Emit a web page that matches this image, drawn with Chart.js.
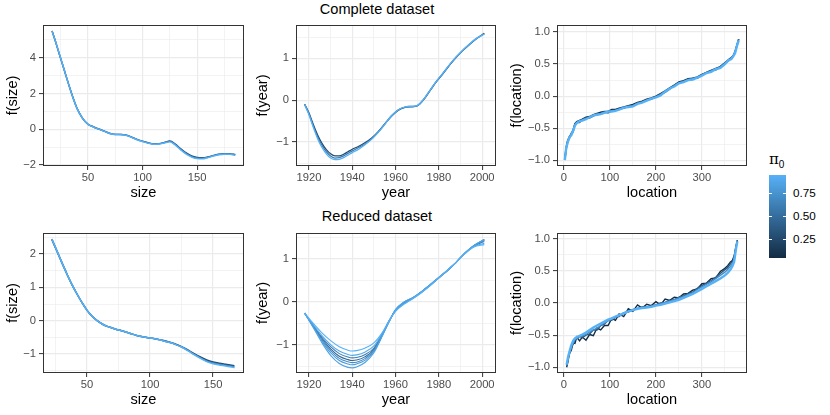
<!DOCTYPE html>
<html>
<head>
<meta charset="utf-8">
<script src="https://cdn.jsdelivr.net/npm/chart.js@4.4.1/dist/chart.umd.min.js"></script>
<style>
  body { margin: 0; background: #fff; }
  #wrap { position: relative; width: 830px; height: 415px; overflow: hidden; font-family: 'Liberation Sans', Arial, sans-serif; }
  canvas { position: absolute; }
  .ttl { position: absolute; width: 300px; text-align: center; font-size: 14.6px; color: #000; line-height: 18px; }
  .lab { position: absolute; font-size: 11.7px; color: #000; line-height: 14px; }
  #bar { position: absolute; left: 769px; top: 175px; width: 17px; height: 83px;
         background: linear-gradient(to bottom, #56B1F7, #336A98 52%, #132B43); }
  .tk { position: absolute; height: 1px; width: 3px; background: #fff; }
</style>
</head>
<body>
<div id="wrap">
  <div class="ttl" style="left:227px; top:0px;">Complete dataset</div>
  <div class="ttl" style="left:227px; top:207px;">Reduced dataset</div>

  <canvas id="c1" width="248" height="189" style="left:0px; top:15px;"></canvas>
  <canvas id="c2" width="250" height="189" style="left:250px; top:15px;"></canvas>
  <canvas id="c3" width="247" height="189" style="left:504px; top:15px;"></canvas>
  <canvas id="c4" width="248" height="188" style="left:0px; top:223px;"></canvas>
  <canvas id="c5" width="250" height="188" style="left:250px; top:223px;"></canvas>
  <canvas id="c6" width="247" height="188" style="left:504px; top:223px;"></canvas>

  <div class="lab" style="left:769px; top:152px; font-size:15px; font-family:'DejaVu Serif', serif;">π<sub style="font-size:10px; font-family:'Liberation Sans', Arial, sans-serif;">0</sub></div>
  <div id="bar"></div>
  <div class="tk" style="left:769px; top:193px;"></div><div class="tk" style="left:783px; top:193px;"></div>
  <div class="tk" style="left:769px; top:216px;"></div><div class="tk" style="left:783px; top:216px;"></div>
  <div class="tk" style="left:769px; top:239px;"></div><div class="tk" style="left:783px; top:239px;"></div>
  <div class="lab" style="left:793px; top:186px;">0.75</div>
  <div class="lab" style="left:793px; top:209px;">0.50</div>
  <div class="lab" style="left:793px; top:232px;">0.25</div>
</div>

<script>
// pi0 values of the fitted curves
var pi0Smooth = [0.25, 0.6, 0.95];
var pi0YearRed = [0.95, 0.9, 0.6, 0.45, 0.7, 0.8, 0.85];
var pi0LocFull = [0.1, 0.5, 0.95];
var pi0LocRed = [0.05, 0.35, 0.7, 0.95];

// complete dataset, f(size)
var sizeFullX = [17, 20, 24, 28, 32, 36, 40, 45, 50, 55, 60, 65, 70, 75, 80, 85, 90, 95, 100, 105, 110, 115, 120, 125, 130, 135, 140, 145, 150, 155, 160, 165, 170, 175, 180, 185];
var sizeFullY = [
  [5.50, 4.93, 4.13, 3.34, 2.55, 1.80, 1.16, 0.61, 0.28, 0.13, 0.01, -0.11, -0.23, -0.29, -0.29, -0.33, -0.44, -0.57, -0.67, -0.76, -0.82, -0.81, -0.74, -0.66, -0.83, -1.10, -1.33, -1.50, -1.58, -1.60, -1.55, -1.47, -1.40, -1.37, -1.38, -1.42],
  [5.49, 4.94, 4.14, 3.35, 2.55, 1.80, 1.15, 0.60, 0.27, 0.12, 0.00, -0.12, -0.24, -0.30, -0.30, -0.34, -0.45, -0.58, -0.68, -0.77, -0.83, -0.82, -0.75, -0.68, -0.86, -1.13, -1.36, -1.53, -1.61, -1.63, -1.57, -1.48, -1.41, -1.38, -1.39, -1.43],
  [5.48, 4.95, 4.15, 3.35, 2.55, 1.80, 1.15, 0.60, 0.27, 0.12, 0.00, -0.12, -0.24, -0.30, -0.31, -0.35, -0.46, -0.59, -0.69, -0.78, -0.84, -0.83, -0.77, -0.71, -0.89, -1.16, -1.40, -1.56, -1.65, -1.66, -1.59, -1.50, -1.43, -1.40, -1.41, -1.45]
];

// complete dataset, f(year)
var yearFullX = [1918, 1920, 1922, 1924, 1926, 1928, 1930, 1932, 1934, 1936, 1938, 1940, 1943, 1946, 1949, 1952, 1955, 1958, 1961, 1964, 1967, 1970, 1973, 1976, 1979, 1982, 1985, 1988, 1991, 1994, 1997, 2001];
var yearFullY = [
  [-0.10, -0.31, -0.58, -0.83, -1.03, -1.18, -1.28, -1.33, -1.33, -1.29, -1.23, -1.17, -1.10, -1.01, -0.90, -0.75, -0.57, -0.39, -0.25, -0.18, -0.16, -0.14, 0.01, 0.23, 0.45, 0.64, 0.84, 1.02, 1.18, 1.32, 1.45, 1.59],
  [-0.10, -0.33, -0.62, -0.88, -1.08, -1.23, -1.33, -1.38, -1.37, -1.33, -1.27, -1.21, -1.13, -1.04, -0.92, -0.76, -0.57, -0.38, -0.24, -0.17, -0.15, -0.13, 0.02, 0.24, 0.45, 0.64, 0.84, 1.02, 1.18, 1.32, 1.45, 1.58],
  [-0.11, -0.35, -0.65, -0.92, -1.13, -1.28, -1.38, -1.42, -1.41, -1.37, -1.31, -1.25, -1.17, -1.06, -0.93, -0.77, -0.58, -0.38, -0.24, -0.17, -0.15, -0.13, 0.02, 0.24, 0.46, 0.65, 0.85, 1.03, 1.19, 1.33, 1.46, 1.57]
];

// complete dataset, f(location)
var locFullX = [2, 5, 8, 12, 16, 20, 24, 28, 34, 40, 48, 56, 64, 72, 80, 88, 96, 104, 112, 120, 130, 140, 150, 160, 170, 180, 190, 200, 210, 220, 230, 240, 250, 260, 270, 280, 290, 300, 310, 320, 330, 340, 350, 358, 364, 368, 372, 376, 380];
var locFullY = [
  [-0.99, -0.80, -0.70, -0.63, -0.59, -0.53, -0.43, -0.40, -0.38, -0.36, -0.33, -0.32, -0.29, -0.27, -0.25, -0.24, -0.24, -0.21, -0.21, -0.19, -0.17, -0.15, -0.13, -0.10, -0.08, -0.05, -0.03, 0.00, 0.04, 0.08, 0.13, 0.17, 0.22, 0.24, 0.27, 0.28, 0.30, 0.34, 0.37, 0.40, 0.43, 0.46, 0.52, 0.57, 0.60, 0.63, 0.69, 0.79, 0.89],
  [-0.98, -0.83, -0.71, -0.66, -0.58, -0.56, -0.44, -0.41, -0.41, -0.37, -0.34, -0.34, -0.31, -0.28, -0.27, -0.25, -0.26, -0.23, -0.22, -0.20, -0.19, -0.16, -0.15, -0.11, -0.09, -0.06, -0.05, -0.01, 0.03, 0.06, 0.11, 0.17, 0.21, 0.23, 0.26, 0.28, 0.28, 0.33, 0.37, 0.40, 0.41, 0.46, 0.52, 0.55, 0.60, 0.63, 0.69, 0.79, 0.89],
  [-1.00, -0.81, -0.73, -0.64, -0.61, -0.54, -0.46, -0.42, -0.39, -0.38, -0.36, -0.33, -0.30, -0.29, -0.28, -0.26, -0.24, -0.24, -0.23, -0.21, -0.18, -0.17, -0.16, -0.12, -0.10, -0.07, -0.04, -0.02, 0.01, 0.07, 0.12, 0.15, 0.20, 0.22, 0.25, 0.26, 0.29, 0.32, 0.36, 0.38, 0.42, 0.44, 0.50, 0.56, 0.58, 0.62, 0.67, 0.78, 0.87]
];

// reduced dataset, f(size)
var sizeRedX = [22, 26, 30, 34, 38, 42, 46, 50, 54, 58, 62, 66, 70, 75, 80, 85, 90, 95, 100, 105, 110, 115, 120, 125, 130, 135, 140, 145, 150, 155, 160, 167];
var sizeRedY = [
  [2.44, 2.09, 1.74, 1.40, 1.08, 0.80, 0.54, 0.31, 0.13, 0.00, -0.10, -0.17, -0.22, -0.28, -0.33, -0.39, -0.45, -0.49, -0.52, -0.55, -0.59, -0.64, -0.70, -0.78, -0.88, -0.99, -1.09, -1.18, -1.24, -1.28, -1.31, -1.35],
  [2.45, 2.10, 1.74, 1.40, 1.08, 0.80, 0.54, 0.31, 0.13, 0.00, -0.10, -0.17, -0.22, -0.28, -0.33, -0.39, -0.45, -0.49, -0.52, -0.55, -0.60, -0.65, -0.71, -0.79, -0.89, -1.01, -1.11, -1.21, -1.27, -1.31, -1.34, -1.38],
  [2.45, 2.10, 1.74, 1.40, 1.08, 0.80, 0.54, 0.31, 0.13, 0.00, -0.10, -0.17, -0.22, -0.28, -0.33, -0.39, -0.45, -0.49, -0.52, -0.55, -0.60, -0.65, -0.71, -0.79, -0.90, -1.02, -1.13, -1.23, -1.29, -1.33, -1.36, -1.41]
];

// reduced dataset, f(year)
var yearRedX = [1918, 1922, 1926, 1930, 1934, 1938, 1940, 1942, 1946, 1950, 1954, 1957, 1960, 1964, 1968, 1972, 1976, 1980, 1984, 1988, 1992, 1996, 2001];
var yearRedY = [
  [-0.26, -0.50, -0.72, -0.90, -1.04, -1.12, -1.14, -1.13, -1.07, -0.95, -0.70, -0.44, -0.22, -0.05, 0.08, 0.22, 0.38, 0.56, 0.74, 0.92, 1.12, 1.27, 1.33],
  [-0.26, -0.53, -0.78, -0.99, -1.14, -1.22, -1.24, -1.23, -1.16, -1.02, -0.72, -0.44, -0.21, -0.04, 0.08, 0.22, 0.38, 0.56, 0.74, 0.92, 1.12, 1.28, 1.36],
  [-0.26, -0.55, -0.82, -1.04, -1.20, -1.28, -1.30, -1.29, -1.22, -1.07, -0.73, -0.44, -0.20, -0.03, 0.09, 0.23, 0.39, 0.56, 0.73, 0.92, 1.12, 1.29, 1.40],
  [-0.26, -0.56, -0.85, -1.09, -1.26, -1.34, -1.36, -1.35, -1.27, -1.10, -0.74, -0.45, -0.19, -0.02, 0.09, 0.23, 0.39, 0.56, 0.73, 0.92, 1.13, 1.30, 1.43],
  [-0.26, -0.57, -0.88, -1.13, -1.31, -1.39, -1.41, -1.40, -1.31, -1.13, -0.75, -0.45, -0.19, -0.01, 0.10, 0.24, 0.40, 0.57, 0.73, 0.92, 1.13, 1.30, 1.44],
  [-0.26, -0.58, -0.91, -1.18, -1.36, -1.44, -1.46, -1.44, -1.35, -1.15, -0.77, -0.46, -0.18, 0.00, 0.10, 0.24, 0.40, 0.57, 0.74, 0.92, 1.13, 1.30, 1.45],
  [-0.26, -0.60, -0.95, -1.24, -1.43, -1.52, -1.53, -1.51, -1.40, -1.18, -0.78, -0.46, -0.18, 0.00, 0.10, 0.24, 0.40, 0.57, 0.74, 0.92, 1.13, 1.30, 1.45]
];

// reduced dataset, f(location)
var locRedX = [6, 9, 12, 16, 20, 24, 28, 34, 40, 48, 56, 64, 72, 80, 88, 96, 104, 112, 120, 130, 140, 150, 160, 170, 180, 190, 200, 210, 220, 230, 240, 250, 260, 270, 280, 290, 300, 310, 320, 330, 340, 350, 356, 362, 366, 370, 374, 377];
var locRedY = [
  [-1.00, -0.91, -0.78, -0.74, -0.62, -0.63, -0.53, -0.59, -0.53, -0.58, -0.49, -0.51, -0.39, -0.42, -0.35, -0.35, -0.24, -0.27, -0.17, -0.21, -0.09, -0.13, -0.03, -0.08, -0.02, -0.04, 0.02, -0.03, 0.06, 0.04, 0.09, 0.08, 0.14, 0.15, 0.20, 0.22, 0.30, 0.31, 0.38, 0.39, 0.49, 0.54, 0.58, 0.64, 0.66, 0.73, 0.88, 0.98],
  [-0.98, -0.87, -0.80, -0.69, -0.64, -0.57, -0.56, -0.52, -0.54, -0.50, -0.48, -0.42, -0.42, -0.35, -0.33, -0.27, -0.27, -0.22, -0.21, -0.15, -0.14, -0.10, -0.09, -0.06, -0.06, -0.04, -0.03, 0.00, 0.01, 0.04, 0.05, 0.09, 0.11, 0.15, 0.17, 0.23, 0.27, 0.31, 0.35, 0.40, 0.46, 0.52, 0.55, 0.61, 0.64, 0.71, 0.87, 0.97],
  [-0.97, -0.86, -0.79, -0.69, -0.62, -0.57, -0.55, -0.52, -0.51, -0.49, -0.45, -0.42, -0.39, -0.35, -0.31, -0.28, -0.25, -0.22, -0.20, -0.16, -0.13, -0.11, -0.08, -0.07, -0.06, -0.05, -0.03, -0.01, 0.01, 0.03, 0.05, 0.08, 0.10, 0.13, 0.16, 0.21, 0.25, 0.29, 0.33, 0.38, 0.43, 0.48, 0.52, 0.57, 0.61, 0.68, 0.86, 0.96],
  [-0.96, -0.84, -0.76, -0.66, -0.59, -0.55, -0.53, -0.51, -0.49, -0.46, -0.42, -0.38, -0.35, -0.32, -0.29, -0.26, -0.24, -0.21, -0.19, -0.16, -0.13, -0.11, -0.09, -0.08, -0.07, -0.06, -0.04, -0.03, -0.01, 0.01, 0.03, 0.05, 0.08, 0.11, 0.14, 0.18, 0.22, 0.26, 0.30, 0.34, 0.38, 0.43, 0.47, 0.52, 0.57, 0.64, 0.84, 0.96]
];

// tick labels
var sizeTicksTop = [50, 100, 150];
var yearTicks = [1920, 1940, 1960, 1980, 2000];
var locTicks = [0, 100, 200, 300];
var fSizeTicksTop = [-2, 0, 2, 4];
var fSizeTicksBot = [-1, 0, 1, 2];
var fYearTicks = [-1, 0, 1];
var fLocTicks = [-1, -0.5, 0, 0.5, 1];

Chart.defaults.font.family = "'Liberation Sans', Arial, sans-serif";

function pi0Color(p) {
  var t = Math.max(0, Math.min(1, (p - 0.04) / 0.91));
  var lo = [19, 43, 67], hi = [86, 177, 247];
  var c = lo.map(function (v, i) { return Math.round(v + (hi[i] - v) * t); });
  return 'rgb(' + c.join(',') + ')';
}

function fmt(v, dec) {
  var s = dec ? Math.abs(v).toFixed(dec) : String(Math.abs(v));
  return (v < 0 ? '\u2212' : '') + s;
}

function tickSet(majors, minors) {
  return function (scale) {
    var t = majors.map(function (v) { return { value: v, major: true }; })
      .concat(minors.map(function (v) { return { value: v, major: false }; }));
    t.sort(function (a, b) { return a.value - b.value; });
    scale.ticks = t;
  };
}

var panelBox = {
  id: 'panelBox',
  afterDraw: function (chart) {
    var a = chart.chartArea, c = chart.ctx;
    c.save();
    c.strokeStyle = '#333333';
    c.lineWidth = 1;
    c.strokeRect(a.left + 0.5, a.top + 0.5, a.right - a.left - 1, a.bottom - a.top - 1);
    c.restore();
  }
};

function axis(o) {
  return {
    type: 'linear',
    min: o.min, max: o.max,
    bounds: 'data',
    afterBuildTicks: tickSet(o.majors, o.minors),
    afterFit: o.fit,
    border: { display: false },
    grid: {
      color: '#EBEBEB',
      lineWidth: function (ctx) { return ctx.tick && ctx.tick.major ? 1.2 : 0.6; },
      tickColor: function (ctx) { return ctx.tick && ctx.tick.major ? '#333333' : 'rgba(0,0,0,0)'; },
      tickLength: 4,
      tickWidth: 1
    },
    ticks: {
      autoSkip: false,
      maxRotation: 0,
      padding: o.pad,
      color: '#4D4D4D',
      font: { size: 11.2 },
      callback: function (v, i, ts) { return ts[i].major ? fmt(v, o.dec) : ''; }
    },
    title: {
      display: true, text: o.title, color: '#000',
      font: { size: 14.6 },
      padding: o.titlePad
    }
  };
}

function makePanel(id, xs, ysList, pis, p) {
  var sets = ysList.map(function (ys, k) {
    return {
      data: xs.map(function (x, i) { return { x: x, y: ys[i] }; }),
      borderColor: pi0Color(pis[k]),
      borderWidth: pis[k] > 0.9 && p.lwTop ? p.lwTop : p.lw,
      pointRadius: 0,
      cubicInterpolationMode: p.smooth ? 'monotone' : 'default',
      tension: 0,
      order: 1 - pis[k]
    };
  });
  new Chart(document.getElementById(id), {
    type: 'line',
    data: { datasets: sets },
    options: {
      responsive: false,
      animation: false,
      layout: { padding: { top: 10, right: 4, left: 0, bottom: 0 } },
      plugins: { legend: { display: false }, tooltip: { enabled: false } },
      scales: {
        x: axis({ min: p.x[0], max: p.x[1], majors: p.xt, minors: p.xm, title: p.xTitle, pad: 1,
                  titlePad: { top: 0, bottom: 2.3 },
                  fit: function (s) { s.height = 38; } }),
        y: axis({ min: p.y[0], max: p.y[1], majors: p.yt, minors: p.ym, title: p.yTitle, pad: 3, dec: p.dec,
                  titlePad: { top: 4.3, bottom: 0 },
                  fit: function (s) { s.width = p.yw; } })
      }
    },
    plugins: [panelBox]
  });
}

makePanel('c1', sizeFullX, sizeFullY, pi0Smooth, {
  x: [8.7, 193], xt: sizeTicksTop, xm: [25, 75, 125, 175], xTitle: 'size',
  y: [-2.06, 5.83], yt: fSizeTicksTop, ym: [-1, 1, 3, 5], yTitle: 'f(size)', yw: 43, lw: 1.4, smooth: true
});
makePanel('c2', yearFullX, yearFullY, pi0Smooth, {
  x: [1914, 2006.4], xt: yearTicks, xm: [1930, 1950, 1970, 1990], xTitle: 'year',
  y: [-1.57, 1.79], yt: fYearTicks, ym: [-1.5, -0.5, 0.5, 1.5], yTitle: 'f(year)', yw: 46, lw: 1.3, smooth: true
});
makePanel('c3', locFullX, locFullY, pi0LocFull, {
  x: [-15, 398], xt: locTicks, xm: [50, 150, 250, 350], xTitle: 'location',
  y: [-1.09, 1.11], yt: fLocTicks, ym: [-0.75, -0.25, 0.25, 0.75], yTitle: 'f(location)', yw: 53, dec: 1, lw: 1.6, lwTop: 2.4, smooth: false
});
makePanel('c4', sizeRedX, sizeRedY, pi0Smooth, {
  x: [15, 174.6], xt: sizeTicksTop, xm: [25, 75, 125], xTitle: 'size',
  y: [-1.57, 2.63], yt: fSizeTicksBot, ym: [-1.5, -0.5, 0.5, 1.5, 2.5], yTitle: 'f(size)', yw: 43, lw: 1.5, smooth: true
});
makePanel('c5', yearRedX, yearRedY, pi0YearRed, {
  x: [1914, 2006.4], xt: yearTicks, xm: [1930, 1950, 1970, 1990], xTitle: 'year',
  y: [-1.65, 1.6], yt: fYearTicks, ym: [-1.5, -0.5, 0.5, 1.5], yTitle: 'f(year)', yw: 46, lw: 1.1, smooth: true
});
makePanel('c6', locRedX, locRedY, pi0LocRed, {
  x: [-15, 398], xt: locTicks, xm: [50, 150, 250, 350], xTitle: 'location',
  y: [-1.09, 1.09], yt: fLocTicks, ym: [-0.75, -0.25, 0.25, 0.75], yTitle: 'f(location)', yw: 53, dec: 1, lw: 1.4, lwTop: 2.4, smooth: false
});
</script>
</body>
</html>
